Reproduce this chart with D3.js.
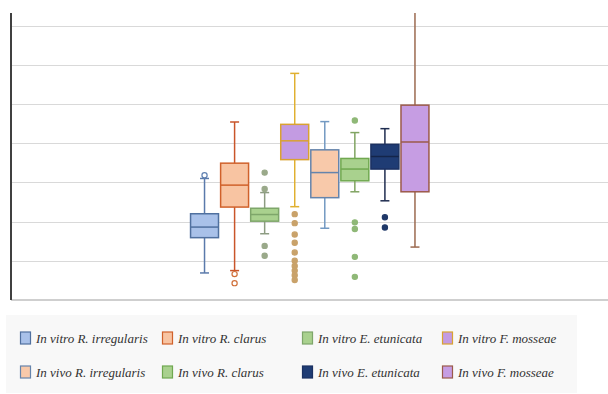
<!DOCTYPE html>
<html>
<head>
<meta charset="utf-8">
<script src="https://cdn.jsdelivr.net/npm/d3@7"></script>
<style>
  body { margin: 0; background: #fff; }
</style>
</head>
<body>
<svg id="chart" width="608" height="394"></svg>
<script>
// Series, in the order they are drawn left to right
var series = [
	"In vitro R. irregularis", "In vitro R. clarus", "In vitro E. etunicata", "In vitro F. mosseae",
	"In vivo R. irregularis", "In vivo R. clarus", "In vivo E. etunicata", "In vivo F. mosseae"
];
// Box statistics (no axis labels in the picture, so units are gridline steps)
var whiskerLow  = [0.69, 0.75, 1.69, 2.38, 1.83, 2.76, 2.53, 1.35];
var q1          = [1.59, 2.37, 2.01, 3.58, 2.61, 3.04, 3.34, 2.76];
var median      = [1.86, 2.93, 2.18, 4.06, 3.25, 3.34, 3.66, 4.03];
var q3          = [2.20, 3.49, 2.34, 4.48, 3.83, 3.61, 3.97, 4.97];
var whiskerHigh = [3.10, 4.54, 2.74, 5.78, 4.55, 4.27, 4.37, 7.32];
var outliers = [
	[3.18],
	[0.66, 0.43],
	[3.25, 2.83, 1.38, 1.13],
	[2.19, 1.96, 1.67, 1.46, 1.21, 1.00, 0.87, 0.75, 0.63, 0.51],
	[],
	[4.58, 1.98, 1.81, 1.10, 0.59],
	[2.11, 1.85],
	[]
];
var gridTicks = [1, 2, 3, 4, 5, 6, 7];

// Colours per series
var fills    = ["#a9c1e9", "#f8c4a2", "#a9d18e", "#c39be2", "#f8c9aa", "#a9d18e", "#1f3c74", "#c69de3"];
var strokes  = ["#50709f", "#d0612b", "#7ea66a", "#d9a232", "#6584ac", "#70a850", "#1b3162", "#9b5a4a"];
var whiskers = ["#5a7aab", "#c9552a", "#8d9c82", "#e0b030", "#7399c2", "#80a462", "#1f2d50", "#9b6a50"];
var dots     = ["#6080b0", "#d0703a", "#9aa98a", "#c9a26a", "#7399c2", "#8fb877", "#1f3868", "#9b6a50"];

function draw() {
	const svg = d3.select("#chart");
	const left = 11, right = 608, top = 13, bottom = 300;

	const y = d3.scaleLinear().domain([0, 7.32]).range([bottom, top]);
	const x = d3.scaleBand().domain(series).range([189.5, 430]).padding(0);
	const bw = x.bandwidth() * 0.93;
	const capW = 9;
	const cx = d => x(d) + x.bandwidth() / 2;

	// Gridlines
	svg.append("g")
	  .selectAll("line")
	  .data(gridTicks)
	  .join("line")
	    .attr("x1", left).attr("x2", right)
	    .attr("y1", d => Math.round(y(d)) + 0.5)
	    .attr("y2", d => Math.round(y(d)) + 0.5)
	    .attr("stroke", "#d9d9d9")
	    .attr("stroke-width", 1.2);

	// Bottom axis line
	svg.append("line")
	    .attr("x1", left).attr("x2", right)
	    .attr("y1", y(0)).attr("y2", y(0))
	    .attr("stroke", "#bfbfbf").attr("stroke-width", 1.5);

	const boxes = svg.append("g")
	  .selectAll("g.box")
	  .data(series.map((s, i) => ({s: s, i: i})))
	  .join("g")
	    .classed("box", true);

	// Whiskers
	boxes.append("line")
	    .attr("x1", d => cx(d.s)).attr("x2", d => cx(d.s))
	    .attr("y1", d => y(whiskerHigh[d.i])).attr("y2", d => y(whiskerLow[d.i]))
	    .attr("stroke", d => whiskers[d.i]).attr("stroke-width", 1.5);
	[whiskerHigh, whiskerLow].forEach(arr => {
		boxes.filter(d => arr[d.i] < 7.3)
		  .append("line")
		    .attr("x1", d => cx(d.s) - capW / 2).attr("x2", d => cx(d.s) + capW / 2)
		    .attr("y1", d => y(arr[d.i])).attr("y2", d => y(arr[d.i]))
		    .attr("stroke", d => whiskers[d.i]).attr("stroke-width", 1.5);
	});

	// Boxes
	boxes.append("rect")
	    .attr("x", d => cx(d.s) - bw / 2)
	    .attr("width", bw)
	    .attr("y", d => y(q3[d.i]))
	    .attr("height", d => y(q1[d.i]) - y(q3[d.i]))
	    .attr("fill", d => fills[d.i])
	    .attr("stroke", d => strokes[d.i])
	    .attr("stroke-width", 1.5);
	boxes.append("line")
	    .attr("x1", d => cx(d.s) - bw / 2).attr("x2", d => cx(d.s) + bw / 2)
	    .attr("y1", d => y(median[d.i])).attr("y2", d => y(median[d.i]))
	    .attr("stroke", d => d.i == 6 ? "#14254a" : strokes[d.i])
	    .attr("stroke-width", 1.5);

	// Outliers
	boxes.selectAll("circle")
	  .data(d => outliers[d.i].map(v => ({v: v, i: d.i, s: d.s})))
	  .join("circle")
	    .attr("cx", d => cx(d.s))
	    .attr("cy", d => y(d.v))
	    .attr("r", 2.6)
	    .attr("fill", d => d.i < 2 ? "#fff" : dots[d.i])
	    .attr("stroke", d => dots[d.i])
	    .attr("stroke-width", 1.2);

	// Left axis line
	svg.append("line")
	    .attr("x1", left).attr("x2", left)
	    .attr("y1", top).attr("y2", bottom)
	    .attr("stroke", "#404040").attr("stroke-width", 2);

	// Legend
	const legend = svg.append("g");
	legend.append("rect")
	    .attr("x", 6).attr("y", 315).attr("width", 571).attr("height", 78)
	    .attr("fill", "#f8f8f8");
	const colX = [20, 162, 302, 442];
	const rowY = [338, 372];
	const items = legend.selectAll("g.item")
	  .data(series.map((s, i) => ({s: s, i: i})))
	  .join("g")
	    .classed("item", true)
	    .attr("transform", d => `translate(${colX[d.i % 4]}, ${rowY[Math.floor(d.i / 4)]})`);
	items.append("rect")
	    .attr("x", 0.5).attr("y", -6).attr("width", 10).attr("height", 12)
	    .attr("fill", d => fills[d.i])
	    .attr("stroke", d => strokes[d.i])
	    .attr("stroke-width", 1.2);
	items.append("text")
	    .attr("x", 16).attr("y", 4.5)
	    .attr("font-family", "'Liberation Serif', 'Times New Roman', serif")
	    .attr("font-style", "italic")
	    .attr("font-size", 13)
	    .attr("fill", "#333")
	    .text(d => d.s);
}
draw();
</script>
</body>
</html>
